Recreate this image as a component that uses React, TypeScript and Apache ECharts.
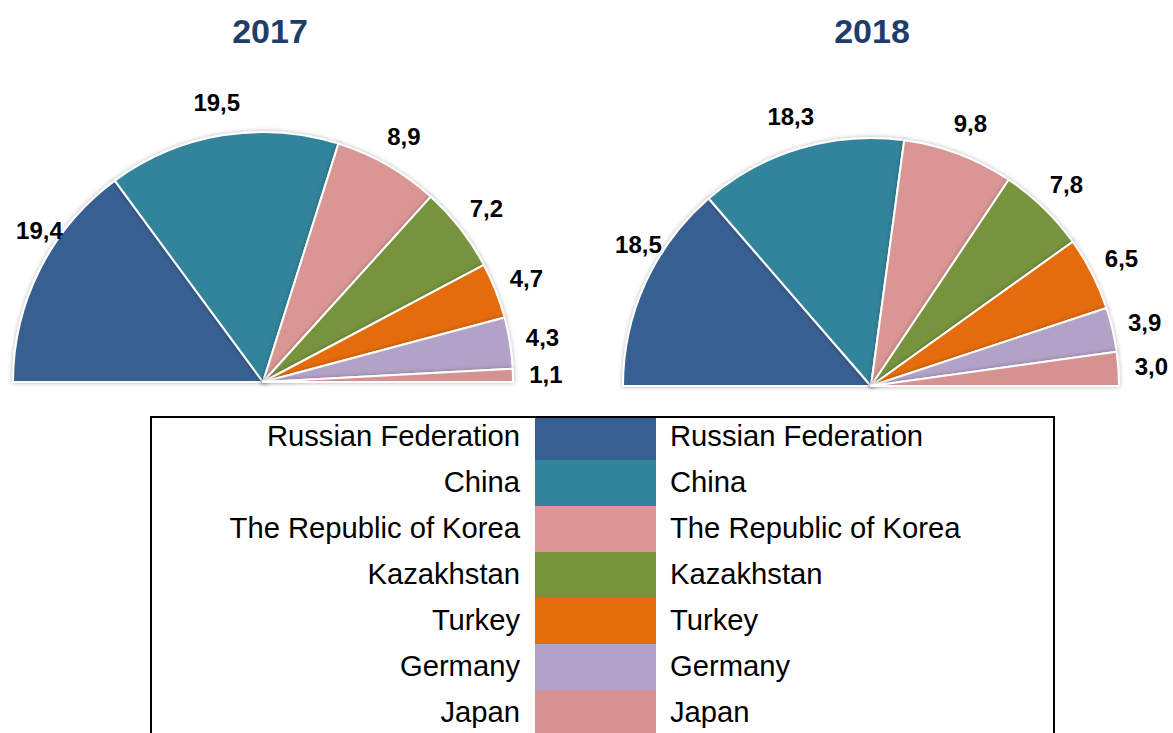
import React, { useEffect, useRef } from "react";
import * as echarts from "echarts";

const countries = [
  "Russian Federation",
  "China",
  "The Republic of Korea",
  "Kazakhstan",
  "Turkey",
  "Germany",
  "Japan",
];
const colors = ["#375F91", "#31849B", "#D99694", "#77933C", "#E46C0A", "#B3A2C7", "#D69291"];
const values2017 = [19.4, 19.5, 8.9, 7.2, 4.7, 4.3, 1.1];
const values2018 = [18.5, 18.3, 9.8, 7.8, 6.5, 3.9, 3.0];
const years = ["2017", "2018"];

const FONT = "'Liberation Sans', Arial, Helvetica, sans-serif";

function fmt(v: number) {
  return v.toFixed(1).replace(".", ",");
}

function pieSeries(values: number[], center: [number, number], r: number, firstOffset: [number, number]) {
  const data = values.map((v, i) => ({
    name: countries[i],
    value: v,
    itemStyle: { color: colors[i] },
  }));
  const labelData = values.map((v, i) => ({
    name: countries[i],
    value: v,
    label: i === 0 ? { offset: firstOffset } : undefined,
  }));
  return [
    {
      type: "pie",
      center,
      radius: [0, r],
      startAngle: 180,
      endAngle: 0,
      clockwise: true,
      silent: true,
      label: { show: false },
      labelLine: { show: false },
      itemStyle: {
        borderColor: "#ffffff",
        borderWidth: 2,
        shadowBlur: 4,
        shadowColor: "rgba(0,0,0,0.3)",
      },
      data,
    },
    {
      type: "pie",
      center,
      radius: [r, r + 60],
      startAngle: 180,
      endAngle: 0,
      clockwise: true,
      silent: true,
      itemStyle: { color: "rgba(0,0,0,0)", borderWidth: 0 },
      labelLine: { show: false },
      label: {
        show: true,
        position: "inside",
        color: "#000000",
        fontFamily: FONT,
        fontWeight: "bold",
        fontSize: 24,
        formatter: (p: any) => fmt(p.value),
      },
      data: labelData,
    },
  ];
}

export default function App() {
  const ref = useRef<HTMLDivElement>(null);
  useEffect(() => {
    if (!ref.current) return;
    const chart = echarts.init(ref.current, null, { renderer: "svg" });

    const rowTop = 414;
    const rowH = 46;
    const boxTop = 417;
    const cellX = 535;
    const cellW = 121;
    const graphics: any[] = [];
    countries.forEach((name, i) => {
      const top = Math.max(rowTop + i * rowH, boxTop + 1);
      const bottom = rowTop + (i + 1) * rowH;
      const cy = rowTop + i * rowH + rowH / 2 - 1;
      graphics.push({
        type: "rect",
        shape: { x: cellX, y: top, width: cellW, height: bottom - top },
        style: { fill: colors[i] },
        z: 1,
      });
      graphics.push({
        type: "text",
        x: 520,
        y: cy,
        style: {
          text: name,
          fill: "#000",
          font: `29.2px ${FONT}`,
          textAlign: "right",
          textVerticalAlign: "middle",
        },
        z: 2,
      });
      graphics.push({
        type: "text",
        x: 670,
        y: cy,
        style: {
          text: name,
          fill: "#000",
          font: `29.2px ${FONT}`,
          textAlign: "left",
          textVerticalAlign: "middle",
        },
        z: 2,
      });
    });
    graphics.push({
      type: "rect",
      shape: { x: 151, y: boxTop, width: 903, height: 400 },
      style: { fill: "none", stroke: "#000", lineWidth: 2 },
      z: 3,
    });
    const titleX = [270, 872];
    years.forEach((y, i) => {
      graphics.push({
        type: "text",
        x: titleX[i],
        y: 31,
        style: {
          text: y,
          fill: "#1F3D6B",
          font: `bold 34px ${FONT}`,
          textAlign: "center",
          textVerticalAlign: "middle",
        },
        z: 2,
      });
    });

    chart.setOption({
      animation: false,
      backgroundColor: "#ffffff",
      series: [
        ...pieSeries(values2017, [263, 382], 250, [29, -24]),
        ...pieSeries(values2018, [871, 386], 248, [23, -25]),
      ],
      graphic: graphics,
    });
    return () => chart.dispose();
  }, []);
  return (
    <div
      ref={ref}
      style={{ position: "fixed", left: 0, top: 0, width: 1173, height: 733 }}
    />
  );
}
